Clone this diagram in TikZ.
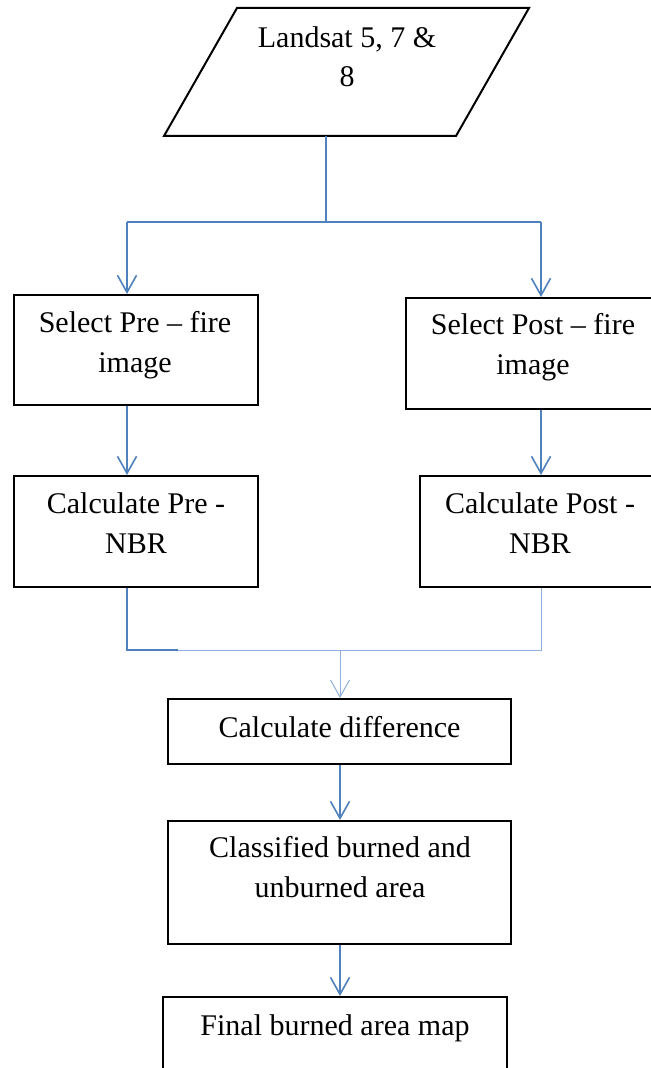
\documentclass[tikz,border=0pt]{standalone}
\usepackage{fontspec}
\setmainfont{Liberation Serif}
\usetikzlibrary{arrows.meta,calc}
\definecolor{flowblue}{HTML}{4F81BD}
\definecolor{lightblue}{HTML}{8FB0D8}
\tikzset{
  boxnode/.style={draw=black, line width=1pt, rectangle, inner sep=0pt},
  txt/.style={anchor=base, inner sep=0pt, font=\fontsize{15}{19.5}\selectfont},
  link/.style={draw=flowblue, line width=0.8pt},
  thinlink/.style={draw=lightblue, line width=0.5pt},
  arr/.style={-{Straight Barb[length=8.5pt,width=9.5pt,line width=0.8pt]}},
}
\begin{document}
\begin{tikzpicture}[x=0.5pt,y=-0.5pt]
\useasboundingbox (0,0) rectangle (651,1068);
\clip (0,0) rectangle (651,1068);
\fill[white] (0,0) rectangle (651,1068);

% source parallelogram
\coordinate (pa) at (164,136);
\coordinate (pb) at (456,136);
\coordinate (pc) at (529,8);
\coordinate (pd) at (237,8);
\draw[line width=1pt, line join=miter] (pa) -- (pb) -- (pc) -- (pd) -- cycle;
\node[txt] (l1) at (347,48) {Landsat 5, 7 \&};
\node[txt] (l2) at (347,87) {8};

% boxes
\node[boxnode, minimum width=122pt, minimum height=55pt] (pre) at (136,350) {};
\node[boxnode, minimum width=130pt, minimum height=55.5pt] (post) at (536,353.5) {};
\node[boxnode, minimum width=122pt, minimum height=55.5pt] (cpre) at (136,531.5) {};
\node[boxnode, minimum width=130pt, minimum height=55.5pt] (cpost) at (550,531.5) {};
\node[boxnode, minimum width=171.5pt, minimum height=32.5pt] (diff) at (339.5,731.5) {};
\node[boxnode, minimum width=171.5pt, minimum height=61.5pt] (cls) at (339.5,882.5) {};
\node[boxnode, minimum width=172pt, minimum height=46.5pt] (fin) at (335,1043.5) {};

% texts
\node[txt] (t1) at (135,333) {Select Pre -- fire};
\node[txt] (t2) at (135,373) {image};
\node[txt] (t3) at (533,335) {Select Post -- fire};
\node[txt] (t4) at (533,375) {image};
\node[txt] (t5) at (136,513) {Calculate Pre -};
\node[txt] (t6) at (136,553) {NBR};
\node[txt] (t7) at (540,513) {Calculate Post -};
\node[txt] (t8) at (540,553) {NBR};
\node[txt] (t9) at (339.5,737) {Calculate difference};
\node[txt] (t10) at (340,857) {Classified burned and};
\node[txt] (t11) at (340,897) {unburned area};
\node[txt] (t12) at (335,1035) {Final burned area map};

% connectors
\coordinate (src) at (326,136);
\coordinate (split) at (326,222);
\coordinate (jl) at (127,222);
\coordinate (jr) at (541,222);
\draw[link] (src) -- (split);
\draw[link] (jl) -- (jr);
\draw[link,arr] (jl) -- (jl |- pre.north);
\draw[link,arr] (jr) -- (jr |- post.north);
\draw[link,arr] (jl |- pre.south) -- (jl |- cpre.north);
\draw[link,arr] (jr |- post.south) -- (jr |- cpre.north);

\coordinate (ml) at (127,650);
\coordinate (mlx) at (178,650);
\coordinate (mr) at (541,650);
\coordinate (mc) at (340,650);
\draw[link] (jl |- cpre.south) -- (ml) -- (mlx);
\draw[thinlink] (mlx) -- (mr) -- (jr |- cpost.south);
\draw[thinlink,-{Straight Barb[length=8.5pt,width=9.5pt,line width=0.5pt]}] (mc) -- (mc |- diff.north);
\draw[link,arr] (mc |- diff.south) -- (mc |- cls.north);
\draw[link,arr] (mc |- cls.south) -- (mc |- fin.north);
\end{tikzpicture}
\end{document}
